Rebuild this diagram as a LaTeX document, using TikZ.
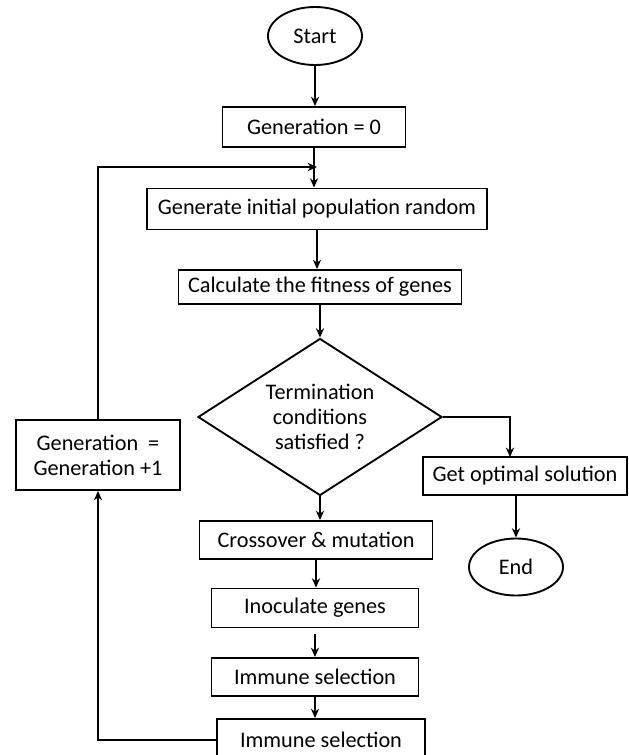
\documentclass[tikz,border=0pt]{standalone}
\usepackage{fontspec}
\setmainfont{Carlito}
\usepackage{tikz}
\usetikzlibrary{shapes.geometric,arrows.meta}

\tikzset{
  box/.style={draw, line width=1.6pt, inner sep=2pt, align=center},
  term/.style={draw, ellipse, line width=1.6pt, inner sep=0pt},
  arr/.style={line width=1.9pt, -{Stealth[length=8pt,width=7pt]}}
}

\begin{document}
\begin{tikzpicture}[x=0.03cm, y=-0.03cm, font=\fontsize{19}{21.5}\selectfont]
            \useasboundingbox (0,0) rectangle (629,755);

            \node [term, minimum width=94*0.03cm, minimum height=58*0.03cm] (start) at (315, 36) {Start};
            \node [box, minimum width=183*0.03cm, minimum height=40*0.03cm] (gen0) at (314, 127) {Generation = 0};
            \node [box, minimum width=340*0.03cm, minimum height=41*0.03cm] (init) at (317, 209) {Generate initial population random};
            \node [box, minimum width=283*0.03cm, minimum height=34*0.03cm] (fit) at (320, 287) {Calculate the fitness of genes};
            \node [draw, diamond, line width=1.6pt, inner sep=-20pt, align=center,
                   minimum width=244*0.03cm, minimum height=157*0.03cm] (cond) at (320, 417) {Termination\\conditions\\satisfied ?};
            \node [box, minimum width=164*0.03cm, minimum height=70*0.03cm] (nxt) at (98, 455) {Generation \ =\\Generation +1};
            \node [box, minimum width=204*0.03cm, minimum height=38*0.03cm] (opt) at (525, 476) {Get optimal solution};
            \node [term, minimum width=94*0.03cm, minimum height=57*0.03cm] (end) at (516, 567) {End};
            \node [box, minimum width=233*0.03cm, minimum height=38*0.03cm] (cross) at (316, 540) {Crossover \& mutation};
            \node [box, minimum width=207*0.03cm, minimum height=39*0.03cm] (inoc) at (315, 608) {Inoculate genes};
            \node [box, minimum width=207*0.03cm, minimum height=38*0.03cm] (imm) at (315, 677) {Immune selection};
            \node [box, minimum width=208*0.03cm, minimum height=42*0.03cm] (immb) at (321, 740) {Immune selection};

            \coordinate (join) at (317, 167);
            \coordinate (optin) at (510, 457);

            \draw [arr] (start) -- (start |- gen0.north);
            \draw [arr] (gen0) -- (gen0 |- init.north);
            \draw [arr] (init) -- (init |- fit.north);
            \draw [arr] (fit.south -| cond.north) -- (cond.north);
            \draw [arr] (cond.east) -| (optin);
            \draw [arr] (opt.south -| end) -- (end);
            \draw [arr] (cond.south) -- (cond.south |- cross.north);
            \draw [arr] (cross) -- (cross |- inoc.north);
            \draw [arr, shorten <=5pt] (inoc) -- (inoc |- imm.north);
            \draw [arr] (imm) -- (imm |- immb.north);
            \draw [arr] (nxt.north) |- (join);
            \draw [arr] (immb.west) -| (nxt.south);
        \end{tikzpicture}
\end{document}
